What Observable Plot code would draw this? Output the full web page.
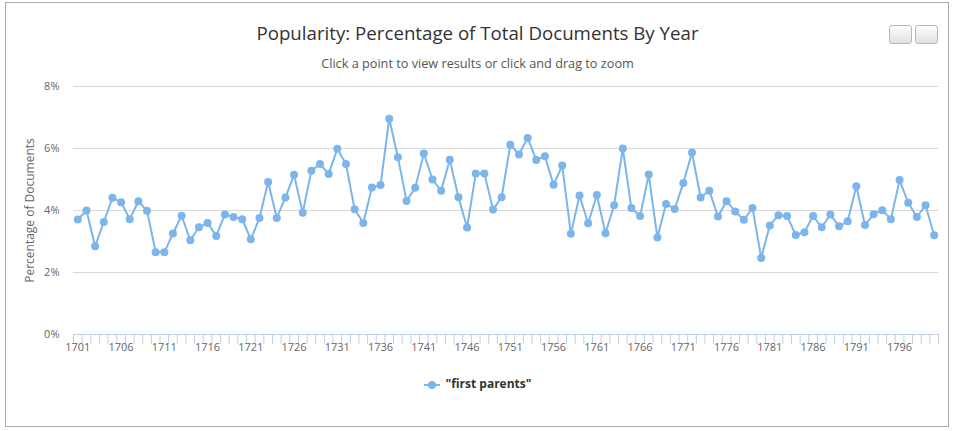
<!DOCTYPE html>
<html>
<head>
<meta charset="utf-8">
<script src="https://cdn.jsdelivr.net/npm/d3@7"></script>
<script src="https://cdn.jsdelivr.net/npm/@observablehq/plot@0.6"></script>
<style>
  html, body { margin: 0; padding: 0; background: #fff; }
  body { width: 955px; height: 431px; overflow: hidden; font-family: "Open Sans", "Liberation Sans", Arial, sans-serif; }
  #wrap { position: relative; width: 955px; height: 431px; }
  #frame { position: absolute; left: 5px; top: 2px; border: 1px solid #aaa; box-sizing: border-box; width: 944px; height: 425px; }
  #title { position: absolute; left: 0; width: 955px; top: 20px; text-align: center; font-size: 18.7px; color: #333; }
  #subtitle { position: absolute; left: 0; width: 955px; top: 54px; text-align: center; font-size: 12.7px; color: #555; }
  .btn { position: absolute; top: 25px; width: 23px; height: 19px; border: 1px solid #b7b7b7; border-radius: 3px; box-sizing: border-box;
         background: linear-gradient(#fefefe, #e0e0e0); }
  #legend { position: absolute; left: 0; width: 955px; top: 375px; text-align: center; font-size: 12px; font-weight: bold; color: #333; }
  #legend svg { vertical-align: middle; margin-right: 6px; }
  #chart { position: absolute; left: 0; top: 0; }
</style>
</head>
<body>
<div id="wrap">
  <div id="frame"></div>
  <div id="chart"></div>
  <div id="title">Popularity: Percentage of Total Documents By Year</div>
  <div id="subtitle">Click a point to view results or click and drag to zoom</div>
  <div class="btn" style="left:889px"></div>
  <div class="btn" style="left:915px"></div>
  <div id="legend"><svg width="16" height="10"><line x1="0" y1="5" x2="16" y2="5" stroke="#7CB5EC" stroke-width="2"/><circle cx="8" cy="5" r="4" fill="#7CB5EC"/></svg>"first parents"</div>
</div>
<script>
const seriesName = "\"first parents\"";
const startYear = 1701;
const values = [
  3.71, 4.00, 2.85, 3.63, 4.41, 4.27, 3.72, 4.30, 3.99, 2.65,
  2.65, 3.26, 3.83, 3.04, 3.46, 3.60, 3.18, 3.87, 3.79, 3.72,
  3.07, 3.76, 4.92, 3.76, 4.42, 5.15, 3.93, 5.28, 5.50, 5.18,
  5.99, 5.50, 4.04, 3.60, 4.74, 4.82, 6.96, 5.72, 4.31, 4.73,
  5.84, 5.00, 4.64, 5.64, 4.43, 3.45, 5.19, 5.19, 4.03, 4.43,
  6.12, 5.81, 6.34, 5.63, 5.75, 4.83, 5.45, 3.25, 4.48, 3.59,
  4.50, 3.27, 4.17, 6.00, 4.08, 3.82, 5.16, 3.13, 4.21, 4.05,
  4.89, 5.87, 4.42, 4.64, 3.81, 4.30, 3.97, 3.70, 4.08, 2.47,
  3.52, 3.85, 3.82, 3.21, 3.30, 3.82, 3.46, 3.87, 3.49, 3.65,
  4.78, 3.53, 3.88, 4.01, 3.72, 4.98, 4.25, 3.79, 4.17, 3.20
];
const years = values.map((_, i) => startYear + i);
const yTicks = [0, 2, 4, 6, 8];
const xLabelYears = [1701, 1706, 1711, 1716, 1721, 1726, 1731, 1736, 1741, 1746, 1751, 1756, 1761, 1766, 1771, 1776, 1781, 1786, 1791, 1796];
const yTitle = "Percentage of Documents";

const data = years.map((y, i) => ({year: y, value: values[i]}));
const tickBounds = d3.range(years[0] - 0.5, years[years.length - 1] + 1, 1);

const chart = Plot.plot({
  width: 955,
  height: 431,
  marginLeft: 73,
  marginRight: 17,
  marginTop: 86,
  marginBottom: 97,
  style: {fontFamily: "'Open Sans', 'Liberation Sans', Arial, sans-serif", fontSize: "11px", background: "transparent"},
  x: {domain: [years[0] - 0.5, years[years.length - 1] + 0.5]},
  y: {domain: [0, 8]},
  marks: [
    Plot.ruleY(yTicks.filter(d => d > 0), {stroke: "#D8D8D8", strokeWidth: 1}),
    Plot.axisY(yTicks, {tickSize: 0, tickPadding: 14, tickFormat: d => d + "%", fill: "#666", label: null, fontSize: 11}),
    Plot.text([yTitle], {frameAnchor: "left", rotate: -90, textAnchor: "middle", dx: -43, fill: "#666", fontSize: 12}),
    Plot.ruleY([0], {stroke: "#C0D0E0", strokeWidth: 1}),
    Plot.axisX(tickBounds, {tickSize: 10, stroke: "#C0D0E0", tickFormat: () => "", label: null}),
    Plot.axisX(xLabelYears, {tickSize: 0, tickPadding: 9, tickFormat: d => String(d), fill: "#666", label: null, fontSize: 11}),
    Plot.line(data, {x: "year", y: "value", stroke: "#7CB5EC", strokeWidth: 2}),
    Plot.dot(data, {x: "year", y: "value", r: 4, fill: "#7CB5EC", stroke: "none"})
  ]
});
document.getElementById("chart").appendChild(chart);
</script>
</body>
</html>
